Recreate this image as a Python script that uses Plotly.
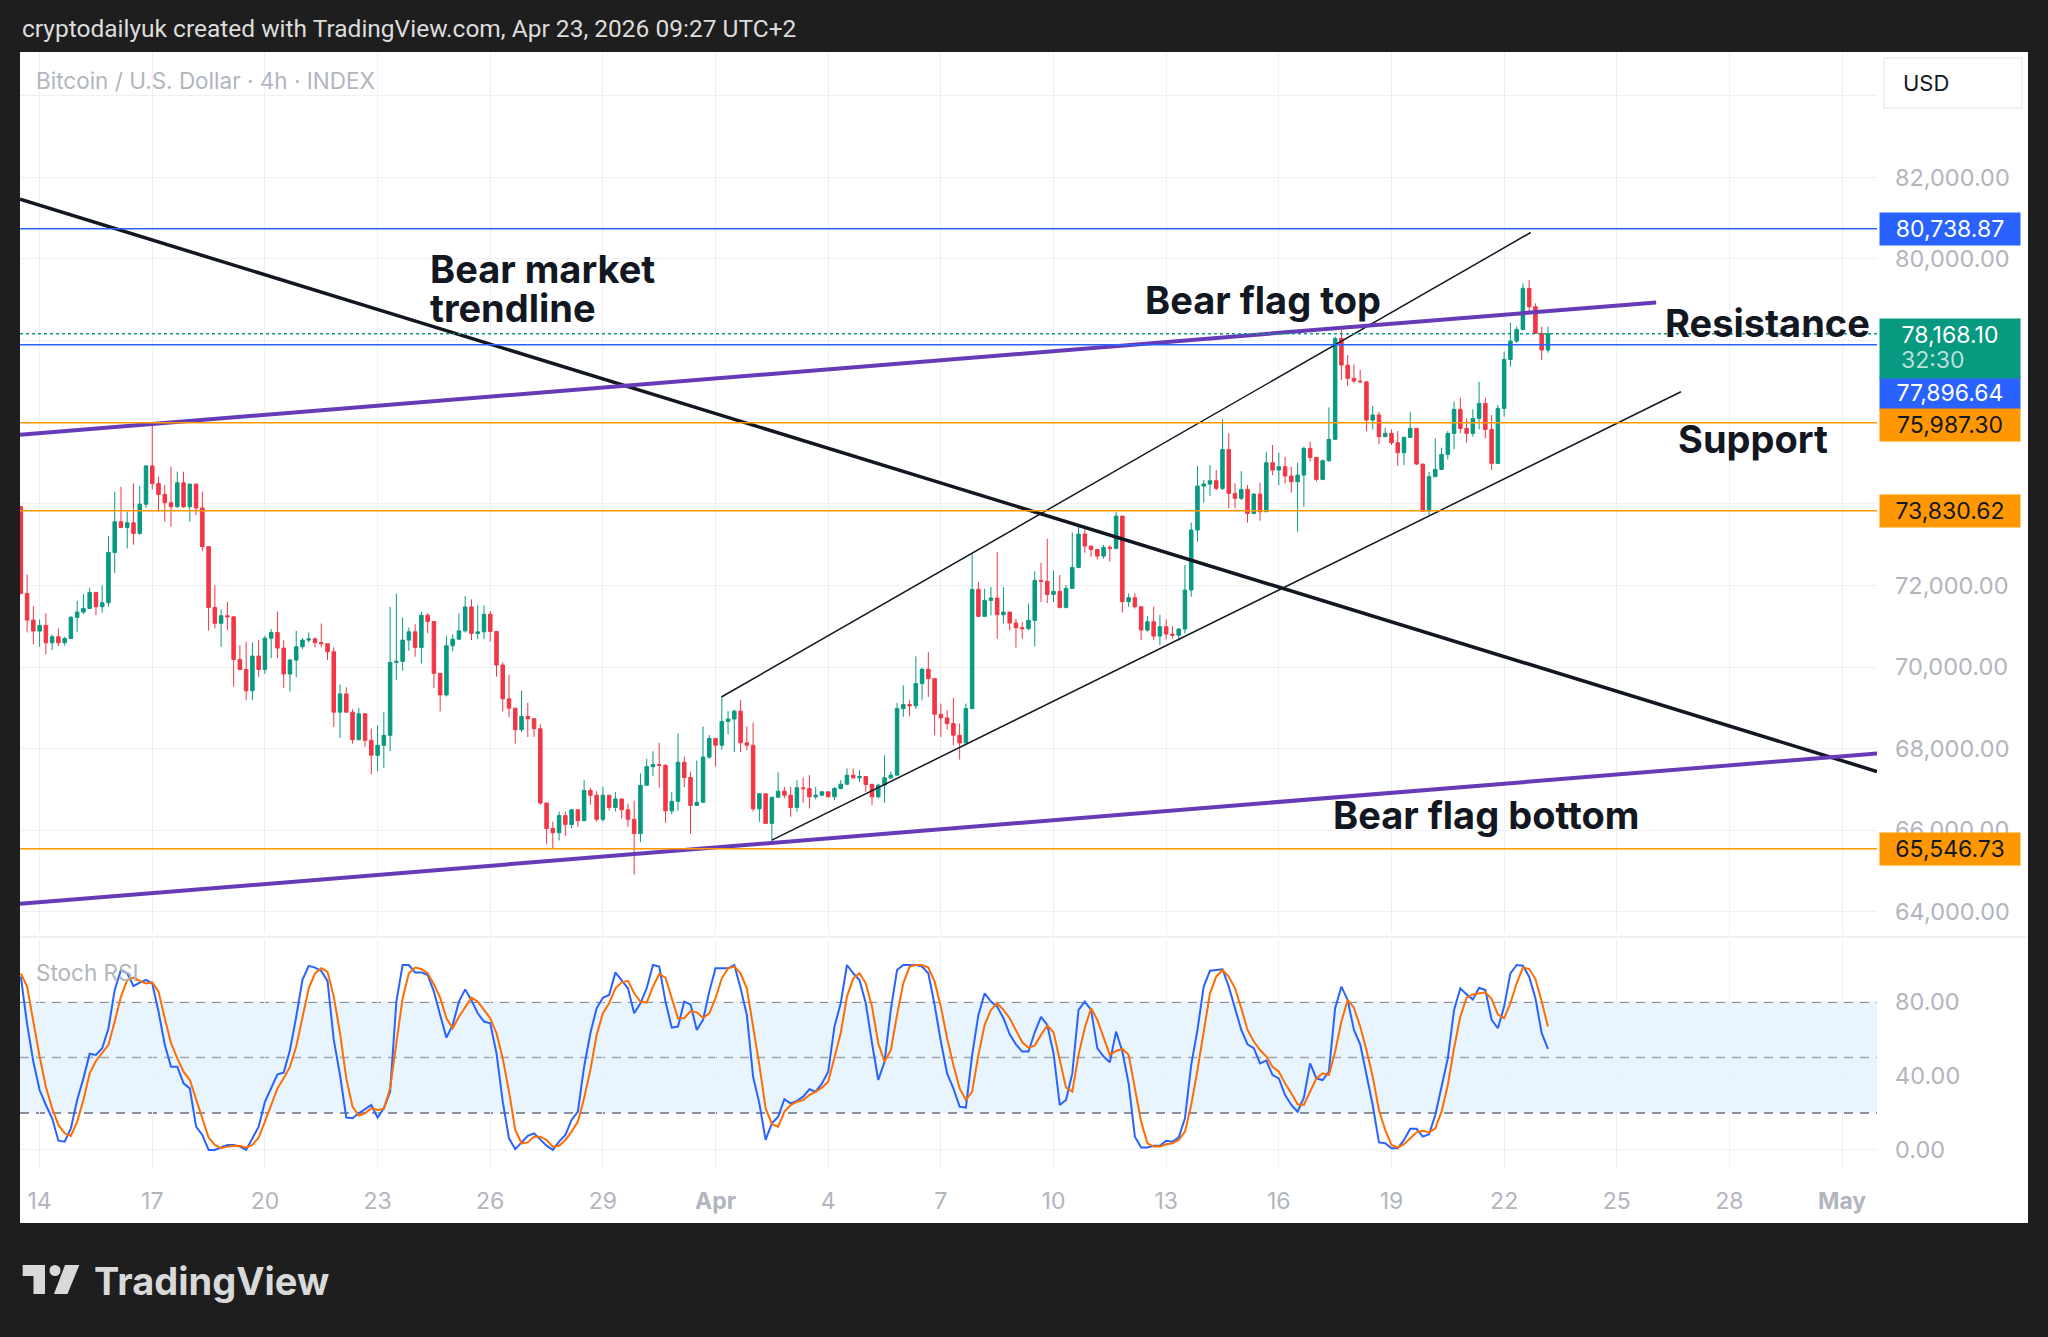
import pandas as pd
import plotly.graph_objects as go

W, H = 2048, 1337
PL, PR, PT, PB = 20, 1877, 52, 1169   # plot box in pixels

## CANDLES (4h, from Mar 13 12:00)
bar_time = pd.date_range('2026-03-13 12:00', periods=245, freq='4h')
first_open = 73928
close = [71804, 71150, 70880, 71020, 70594, 70741, 70594, 70700, 71216, 71346,
         71436, 71828, 71477, 71575, 72809, 73560, 73420, 73535, 73275, 73990,
         74928, 74495, 74230, 74026, 73928, 74516, 73928, 74483, 73900, 72950,
         71460, 71070, 71257, 71230, 70186, 69940, 69419, 70268, 69940, 70707,
         70846, 70463, 69829, 70170, 70496, 70659, 70690, 70600, 70570, 70374,
         68894, 69341, 68894, 68220, 68854, 68203, 67837, 68081, 68325, 70114,
         70138, 70659, 70862, 70480, 71268, 71114, 69846, 69317, 70520, 70683,
         70886, 71472, 70821, 70862, 71293, 70870, 70049, 69220, 68992, 68464,
         68789, 68732, 68488, 66667, 66042, 65940, 66358, 66142, 66500, 66233,
         66975, 66858, 66267, 66858, 66558, 66767, 66500, 66267, 65917, 67100,
         67558, 67608, 67590, 66475, 66708, 67667, 67292, 66608, 66683, 67792,
         68250, 68083, 68667, 68725, 68917, 68142, 68083, 66525, 66892, 66167,
         66808, 66958, 66858, 66557, 67039, 67020, 66818, 66859, 66941, 66818,
         67022, 67128, 67349, 67283, 67316, 67120, 66818, 67104, 67283, 67349,
         68981, 69079, 69050, 69593, 69944, 69715, 68842, 68752, 68614, 68328,
         68140, 68981, 71902, 71241, 71633, 71690, 71282, 71347, 71078, 70964,
         70940, 71143, 72122, 72100, 71780, 71853, 71461, 71926, 72441, 73258,
         72964, 72882, 72719, 72931, 72910, 73699, 71600, 71698, 71477, 70905,
         71110, 70758, 70987, 70807, 70780, 70930, 71886, 73356, 74435, 74484,
         74565, 74378, 75333, 74255, 74133, 74353, 73765, 74239, 73806, 75006,
         74827, 74909, 74680, 74541, 74704, 75358, 75137, 74598, 75056, 75579,
         78054, 77400, 77074, 77008, 76990, 76052, 76175, 75644, 75726, 75497,
         75252, 75627, 75848, 74974, 73822, 74664, 74843, 75211, 75726, 76314,
         75848, 75726, 76093, 76461, 75824, 74990, 76338, 77539, 77988, 78275,
         79280, 78830, 78177, 77768, 78168.10]
high = [73950, 72270, 71493, 71167, 71314, 70799, 70946, 70741, 71250, 71624,
        71788, 71943, 71828, 72000, 73208, 74297, 74420, 73805, 74500, 74437,
        74953, 75930, 74666, 74458, 74912, 74786, 74786, 74483, 74483, 74297,
        72950, 72000, 71412, 71600, 71230, 70537, 70619, 70603, 70660, 70764,
        70930, 71358, 70659, 70200, 70886, 70707, 70846, 70724, 71065, 70570,
        70480, 69569, 69504, 68967, 68992, 68870, 68488, 68569, 68894, 71471,
        71797, 71211, 70968, 71049, 71358, 71317, 71114, 69846, 70764, 70805,
        71317, 71740, 71658, 71512, 71512, 71374, 70870, 70114, 69813, 68992,
        69422, 69122, 68732, 68600, 66667, 66210, 66458, 66458, 66520, 66500,
        67225, 67042, 66958, 67067, 66858, 66933, 66767, 66650, 66725, 67392,
        67750, 67933, 68140, 67620, 66933, 68375, 67808, 67433, 67708, 68542,
        68333, 68250, 69292, 68917, 68958, 69192, 68542, 68642, 66900, 66892,
        66808, 67417, 67063, 67063, 67226, 67292, 67349, 67063, 66957, 66941,
        67063, 67226, 67512, 67512, 67471, 67316, 67145, 67145, 67838, 67430,
        69120, 69552, 69185, 70262, 69976, 70368, 69715, 69103, 68940, 69250,
        68614, 69103, 72775, 72082, 71918, 71959, 72816, 71959, 71347, 71184,
        71102, 71551, 72343, 72555, 73142, 72367, 72253, 72008, 73299, 73479,
        73438, 72964, 72882, 72990, 72990, 73806, 73699, 71804, 71804, 71477,
        71248, 71477, 71273, 71167, 71000, 70950, 72499, 73536, 74925, 74582,
        74949, 74827, 76069, 75726, 74500, 74802, 74460, 74255, 74516, 75276,
        75440, 75252, 75154, 74909, 75006, 75399, 75521, 75137, 75088, 76363,
        78095, 78258, 77645, 77417, 77278, 76990, 76396, 76257, 75865, 75824,
        75783, 75644, 76257, 75848, 74974, 74786, 75603, 75374, 75783, 76502,
        76600, 76093, 76314, 76992, 76600, 76175, 76420, 77727, 78438, 78340,
        79402, 79484, 78912, 78340, 78340]
low = [71780, 70848, 70554, 70497, 70309, 70415, 70513, 70520, 70680, 70864,
       71300, 71420, 71273, 71330, 71477, 72300, 73400, 72906, 73000, 73240,
       73900, 74350, 73806, 73560, 73437, 73900, 73900, 73560, 73724, 72840,
       70890, 70945, 70497, 70900, 69517, 69920, 69190, 69190, 69760, 69829,
       70220, 70220, 69488, 69398, 69748, 70440, 70600, 70480, 70480, 70170,
       68529, 68260, 68880, 68122, 68200, 68041, 67366, 67447, 67528, 67935,
       69683, 69911, 70398, 70252, 70089, 70829, 69488, 68910, 69276, 70382,
       70659, 70846, 70659, 70683, 70683, 70626, 69764, 68911, 68773, 68122,
       68407, 68285, 68285, 66625, 65667, 65540, 65750, 65858, 66042, 66083,
       66233, 66625, 66208, 66208, 66475, 66458, 66292, 66083, 64917, 65708,
       67100, 67333, 67040, 66183, 66392, 66475, 67058, 65917, 66600, 66683,
       67750, 67558, 67975, 68350, 67917, 67917, 67958, 66458, 66208, 66150,
       65708, 66800, 66780, 66329, 66451, 66672, 66533, 66753, 66835, 66800,
       66737, 67000, 67100, 67267, 67186, 66941, 66614, 66780, 66672, 67250,
       67349, 68777, 68793, 68970, 69185, 69266, 68328, 68288, 68467, 68083,
       67732, 68140, 68981, 71225, 71241, 71266, 70694, 71062, 70898, 70474,
       70694, 70898, 70507, 71592, 71568, 71592, 71437, 71437, 71926, 72420,
       72800, 72703, 72637, 72650, 72580, 72880, 71330, 71477, 71437, 70660,
       70864, 70660, 70538, 70677, 70700, 70640, 70820, 71720, 73070, 74027,
       74190, 74330, 74337, 73887, 73887, 74092, 73536, 73740, 73585, 73800,
       74704, 74459, 74500, 74271, 73315, 73928, 75031, 74541, 74580, 75031,
       75570, 77033, 76886, 76951, 76967, 75783, 75824, 75456, 75644, 75440,
       74925, 74949, 75627, 74949, 73806, 73724, 74664, 74843, 75088, 75334,
       75726, 75497, 75644, 75824, 75603, 74827, 74990, 76134, 77360, 77947,
       78250, 78708, 78177, 77523, 77703]
open_ = [first_open] + close[:-1]

## STOCH RSI
stoch_k = [93.7, 68, 47.7, 32.4, 24.3, 17.1, 5, 4.5, 11.7, 27,
           38.7, 52, 51.4, 55, 65.8, 86.5, 97.3, 95.5, 88.6, 90.5,
           91.9, 90, 74.8, 56.8, 45, 45, 36, 33.3, 12.6, 8.1,
           0, 0, 1.3, 2.7, 2.7, 1.8, 0, 6.3, 12.6, 26,
           33.3, 40.9, 41.8, 54, 72, 92, 99.5, 98.6, 96.8, 91.4,
           59.5, 40.5, 17.5, 17.1, 19.8, 22, 24.3, 17.5, 22.5, 31.5,
           80.2, 100, 100, 96, 96, 94.6, 85.6, 73, 60.7, 67.6,
           80.2, 86.8, 81, 73.9, 69.4, 68.5, 52.3, 26.1, 6.3, 0.4,
           4.1, 7.6, 9, 5.4, 2.3, 0, 4.5, 8.1, 16.2, 20.7,
           45, 63.1, 76.6, 82.3, 83.8, 96, 91.9, 87.4, 73.9, 79.3,
           87.4, 100, 99.1, 80.2, 66.1, 66.7, 80.2, 78.7, 64.9, 70.3,
           85.6, 98.2, 98.2, 98.2, 100, 87.4, 73, 39.6, 25.2, 5.4,
           14.4, 18, 27.4, 25.2, 26.5, 28.8, 32.8, 31.5, 36, 42.3,
           66.7, 79.3, 100, 95.5, 91.9, 79.3, 57.7, 37.8, 47.7, 75.7,
           97.3, 100, 100, 100, 99.1, 95.5, 78.4, 58.6, 41.4, 33.3,
           23.4, 22.9, 51.4, 73, 84.7, 80.2, 77.5, 71.2, 62.5, 57.1,
           53.2, 53.2, 63.6, 72, 67.6, 52.3, 24.3, 27, 41.4, 75.7,
           80.2, 75.7, 55, 50.5, 47.4, 64, 53.2, 36, 7.2, 1.3,
           1.3, 2.3, 2.3, 5, 4.5, 6.7, 17.1, 46, 64.9, 88.3,
           96.9, 97.3, 97.7, 88.3, 76.6, 64.9, 57.1, 55, 46.8, 48.3,
           40.5, 38.7, 29.7, 24.3, 20.7, 28.3, 46.8, 38.7, 37.8, 42.3,
           76.6, 88.3, 81.1, 64.9, 57.1, 40.5, 24.3, 4.1, 3.6, 0.9,
           0.9, 5.4, 11.4, 11.4, 7.2, 8.5, 18.9, 34.2, 49.5, 75.7,
           87.4, 84.1, 81.4, 87.7, 86.5, 70.3, 65.8, 77.5, 95.5, 100,
           99.6, 93.7, 82, 63.1, 54.6]
stoch_d = [95.5, 88.3, 69.4, 50.5, 34.2, 22.5, 13.5, 9, 7.6, 15.3,
           27, 41.4, 48.1, 52.3, 56.8, 69.4, 82.9, 91.9, 93.2, 91.4,
           90, 90.6, 85.6, 71.2, 57.7, 49.5, 42.3, 37.8, 27, 16.2,
           6.7, 2.7, 0.9, 1.8, 2.3, 2.1, 1.3, 2.7, 6.7, 15.3,
           24.3, 33.3, 38.7, 45, 55.9, 72, 87.4, 95.5, 98.2, 96.4,
           82.9, 63.1, 38.7, 23.4, 18.6, 19.8, 22.5, 21.6, 22.2, 33.3,
           56.8, 82, 95.5, 98.6, 97.8, 95.5, 89.5, 82.3, 71.2, 65.8,
           72, 77.5, 82.3, 80.2, 75.7, 71.2, 63.1, 49.5, 31.5, 10.8,
           3.6, 4.1, 7.2, 7.2, 5.4, 1.8, 2.3, 5.4, 9.9, 15.3,
           27.9, 43.2, 62.2, 73.9, 79.3, 87.4, 90.6, 91.4, 84.7, 80.2,
           79.6, 88.3, 95, 93.2, 82, 71.2, 71.2, 75.1, 74.4, 71.5,
           73.9, 82, 92.8, 98.2, 99.1, 95.5, 87.4, 67.6, 45.9, 22.5,
           13.9, 12.6, 20.7, 24.3, 26.1, 27, 29.7, 31.5, 33.7, 36.9,
           49.5, 63.1, 82.9, 92.8, 95.5, 90.1, 77.5, 57.7, 47.7, 54,
           73, 90.1, 99.1, 100, 100, 98.6, 91, 77.5, 60.4, 45.9,
           33.3, 27, 31.5, 51.4, 67.6, 75.7, 79.3, 75.7, 71.2, 64.9,
           58.2, 55.3, 56.4, 62.2, 67.2, 63.6, 49.5, 33.7, 31.5, 51.4,
           66.1, 76.6, 70.3, 60.4, 51.4, 53.5, 54.6, 51.4, 33.3, 15.3,
           3.6, 1.8, 1.8, 3.1, 3.6, 5.4, 9.9, 24.3, 43.2, 64,
           84.7, 93.7, 97.3, 93.7, 87.4, 76.6, 64.9, 58.6, 54, 50.5,
           45, 42.3, 36, 30.6, 24.7, 24.3, 31.5, 38.7, 41.4, 40.5,
           53.2, 69.4, 81.1, 76.9, 66.7, 54, 39.6, 21.6, 10.8, 2.7,
           1.3, 3.1, 6.3, 9.5, 10.3, 9.5, 11.7, 20.7, 35.1, 55,
           72.1, 82.3, 84.1, 84.7, 85.2, 81.6, 73.3, 71.2, 79.3, 90.1,
           98.6, 97.8, 92.4, 80.2, 66.7]

## LEVELS AND DRAWINGS
blue_levels = [80738.87, 77896.64]
orange_levels = [75987.30, 73830.62, 65546.73]
last_price = 78168.10
countdown = '32:30'

bear_market_time = ['2026-03-13 11:28', '2026-05-01 22:18']
bear_market_price = [81463, 67440]
flag_top_time = ['2026-03-13 11:28', '2026-04-26 01:10']
flag_top_price = [75695, 78936]
flag_bottom_time = ['2026-03-13 11:28', '2026-05-01 22:18']
flag_bottom_price = [64195, 67881]
channel_up_time = ['2026-04-01 04:00', '2026-04-22 17:00']
channel_up_price = [69271, 80649]
channel_low_time = ['2026-04-02 12:00', '2026-04-26 17:00']
channel_low_price = [65759, 76747]

note_text = ['Bear market', 'trendline', 'Bear flag top', 'Resistance', 'Support', 'Bear flag bottom']
note_time = ['2026-03-24 08:24', '2026-03-24 08:24', '2026-04-12 09:20',
             '2026-04-26 05:30', '2026-04-26 14:00', '2026-04-17 09:20']
note_price = [79754, 78798, 78994, 78443, 75587, 66372]

tick_dates = ['2026-03-14', '2026-03-17', '2026-03-20', '2026-03-23', '2026-03-26', '2026-03-29',
              '2026-04-01', '2026-04-04', '2026-04-07', '2026-04-10', '2026-04-13', '2026-04-16',
              '2026-04-19', '2026-04-22', '2026-04-25', '2026-04-28', '2026-05-01']
tick_text = ['14', '17', '20', '23', '26', '29', '<b>Apr</b>', '4', '7', '10', '13', '16',
             '19', '22', '25', '28', '<b>May</b>']

GREEN, RED = '#089981', '#f23645'
BLUE, ORANGE, PURPLE = '#2962ff', '#ff9800', '#673ab7'
GRID, LABEL = '#eef0f4', '#b2b5be'
FONT = 'Inter'


def px_x(x):
    return (x - PL) / (PR - PL)


def px_y(y):
    return (PB - y) / (PB - PT)


fig = go.Figure()

fig.add_trace(go.Candlestick(x=bar_time, open=open_, high=high, low=low, close=close,
                             increasing=dict(line=dict(color=GREEN, width=1), fillcolor=GREEN),
                             decreasing=dict(line=dict(color=RED, width=1), fillcolor=RED),
                             whiskerwidth=0, showlegend=False, hoverinfo='skip'))

# drawings
for t, p, c, w in [(channel_up_time, channel_up_price, '#131722', 1.5),
                   (channel_low_time, channel_low_price, '#131722', 1.5),
                   (bear_market_time, bear_market_price, '#131722', 3.5),
                   (flag_top_time, flag_top_price, PURPLE, 4),
                   (flag_bottom_time, flag_bottom_price, PURPLE, 4)]:
    fig.add_trace(go.Scatter(x=t, y=p, mode='lines', line=dict(color=c, width=w),
                             showlegend=False, hoverinfo='skip'))

fig.add_trace(go.Scatter(x=bar_time, y=stoch_k, yaxis='y2', mode='lines',
                         line=dict(color=BLUE, width=2), showlegend=False, hoverinfo='skip'))
fig.add_trace(go.Scatter(x=bar_time, y=stoch_d, yaxis='y2', mode='lines',
                         line=dict(color='#ff6d00', width=2), showlegend=False, hoverinfo='skip'))

shapes = [
    # white chart card
    dict(type='rect', xref='paper', yref='paper', x0=px_x(20), x1=px_x(2028), y0=px_y(52), y1=px_y(1223),
         fillcolor='white', line=dict(width=0), layer='below'),
    # stoch band
    dict(type='rect', xref='x domain', yref='y2', x0=0, x1=1, y0=20, y1=80,
         fillcolor='rgba(33,150,243,0.1)', line=dict(width=0), layer='below'),
    # pane separator
    dict(type='line', xref='paper', yref='paper', x0=0, x1=px_x(2028), y0=px_y(937), y1=px_y(937),
         line=dict(color='#e0e3eb', width=1), layer='below'),
    # USD box
    dict(type='rect', xref='paper', yref='paper', x0=px_x(1884), x1=px_x(2022), y0=px_y(58), y1=px_y(108),
         fillcolor='white', line=dict(color='#e0e3eb', width=1), layer='above'),
]
for lvl, col in [(80, '#6a6d78'), (50, '#a3a6af'), (20, '#6a6d78')]:
    shapes.append(dict(type='line', xref='x domain', yref='y2', x0=0, x1=1, y0=lvl, y1=lvl,
                       line=dict(color=col, width=1.5, dash='9px,7px'), layer='below'))
for lvl in blue_levels:
    shapes.append(dict(type='line', xref='x domain', yref='y', x0=0, x1=1, y0=lvl, y1=lvl,
                       line=dict(color=BLUE, width=1.5), layer='above'))
for lvl in orange_levels:
    shapes.append(dict(type='line', xref='x domain', yref='y', x0=0, x1=1, y0=lvl, y1=lvl,
                       line=dict(color=ORANGE, width=1.5), layer='above'))
shapes.append(dict(type='line', xref='x domain', yref='y', x0=0, x1=1, y0=last_price, y1=last_price,
                   line=dict(color=GREEN, width=1.5, dash='dot'), layer='above'))


# TradingView logo glyph
def poly(pts):
    return 'M' + ' L'.join(f'{px_x(a):.5f},{px_y(b):.5f}' for a, b in pts) + ' Z'


logo_col = '#d9d9d9'
shapes += [
    dict(type='path', xref='paper', yref='paper', line=dict(width=0), fillcolor=logo_col, layer='above',
         path=poly([(22.7, 1265), (45, 1265), (45, 1294), (33.5, 1294), (33.5, 1276), (22.7, 1276)])),
    dict(type='circle', xref='paper', yref='paper', line=dict(width=0), fillcolor=logo_col, layer='above',
         x0=px_x(49.5), x1=px_x(60.5), y0=px_y(1265), y1=px_y(1276)),
    dict(type='path', xref='paper', yref='paper', line=dict(width=0), fillcolor=logo_col, layer='above',
         path=poly([(65, 1265), (79.3, 1265), (67.5, 1294), (54, 1294)])),
]

annotations = [
    dict(xref='paper', yref='paper', x=px_x(20), y=px_y(29), xanchor='left', yanchor='middle',
         text='cryptodailyuk created with TradingView.com, Apr 23, 2026 09:27 UTC+2',
         font=dict(family='Roboto', size=24.5, color='#dcdcdc'), showarrow=False),
    dict(xref='paper', yref='paper', x=px_x(34), y=px_y(81), xanchor='left', yanchor='middle',
         text='Bitcoin / U.S. Dollar · 4h · INDEX', font=dict(family=FONT, size=22.5, color=LABEL),
         showarrow=False),
    dict(xref='paper', yref='paper', x=px_x(34), y=px_y(972), xanchor='left', yanchor='middle',
         text='Stoch RSI', font=dict(family=FONT, size=22.5, color=LABEL), showarrow=False),
    dict(xref='paper', yref='paper', x=px_x(1901), y=px_y(83), xanchor='left', yanchor='middle',
         text='USD', font=dict(family=FONT, size=22, color='#131722'), showarrow=False),
    dict(xref='paper', yref='paper', x=px_x(92), y=px_y(1281), xanchor='left', yanchor='middle',
         text='TradingView', font=dict(family=FONT, size=38, color=logo_col, weight=700),
         showarrow=False),
]

# chart notes
for txt, t, p in zip(note_text, note_time, note_price):
    annotations.append(dict(xref='x', yref='y', x=t, y=p, xanchor='left', yanchor='middle',
                            text=txt, showarrow=False,
                            font=dict(family=FONT, size=38, color='#131722', weight=700)))

# price tags on the scale
tags = [(blue_levels[0], BLUE, 'white', 0), (blue_levels[1], BLUE, 'white', -47.7),
        (orange_levels[0], ORANGE, '#131722', -2.3), (orange_levels[1], ORANGE, '#131722', 0),
        (orange_levels[2], ORANGE, '#131722', 0)]
for val, bg, fg, shift in tags:
    annotations.append(dict(xref='paper', yref='y', x=1, y=val, xanchor='left', yanchor='middle',
                            xshift=2, yshift=shift, text=f'{val:,.2f}', showarrow=False,
                            bgcolor=bg, width=136, height=28, borderpad=2, align='center',
                            font=dict(family=FONT, size=23, color=fg)))
annotations.append(dict(xref='paper', yref='y', x=1, y=last_price, xanchor='left', yanchor='top',
                        xshift=2, yshift=15.7, text=f'{last_price:,.2f}', showarrow=False,
                        bgcolor=GREEN, width=136, height=55, borderpad=2, align='center', valign='top',
                        font=dict(family=FONT, size=23, color='white')))
annotations.append(dict(xref='paper', yref='y', x=1, y=last_price, xanchor='left', yanchor='middle',
                        xshift=22, yshift=-26, text=countdown, showarrow=False,
                        font=dict(family=FONT, size=23, color='rgba(255,255,255,0.72)')))

fig.update_layout(
    width=W, height=H, autosize=False,
    margin=dict(l=PL, r=W - PR, t=PT, b=H - PB, pad=0),
    paper_bgcolor='#1e1e1e', plot_bgcolor='white',
    boxgap=0.25, boxgroupgap=0.25,
    font=dict(family=FONT),
    shapes=shapes, annotations=annotations,
    xaxis=dict(type='date', range=['2026-03-13 11:28', '2026-05-01 22:18'], anchor='y2',
               tickvals=tick_dates, ticktext=tick_text, showgrid=True, gridcolor=GRID, gridwidth=1,
               zeroline=False, showline=False, ticks='', ticklabelstandoff=16,
               tickfont=dict(family=FONT, size=23, color=LABEL), rangeslider=dict(visible=False)),
    yaxis=dict(domain=[0.2107, 1], range=[63465, 85073], side='right', dtick=2000, tick0=0,
               tickformat=',.2f', showgrid=True, gridcolor=GRID, gridwidth=1, zeroline=False,
               ticks='', ticklabelstandoff=17, tickfont=dict(family=FONT, size=23.5, color=LABEL)),
    yaxis2=dict(domain=[0, 0.205], range=[-10.3, 113.5], side='right', anchor='x',
                tickvals=[0, 40, 80], tickformat='.2f', showgrid=True, gridcolor=GRID, gridwidth=1,
                zeroline=False, ticks='', ticklabelstandoff=17,
                tickfont=dict(family=FONT, size=23.5, color=LABEL)),
)

# page body has an 8px default margin; drop it so the picture sits flush
fig.write_html('out.html', config={'displayModeBar': False},
               post_script="document.body.style.margin='0';")
